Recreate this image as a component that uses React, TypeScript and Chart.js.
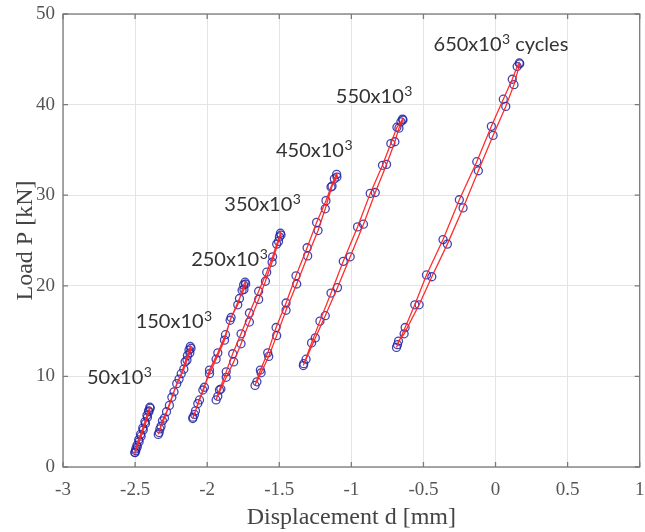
import React, { useEffect, useRef } from 'react';
import { Chart, registerables } from 'chart.js';

Chart.register(...registerables);

// Axis ticks
const xTickValues = [-3, -2.5, -2, -1.5, -1, -0.5, 0, 0.5, 1];
const yTickValues = [0, 10, 20, 30, 40, 50];

// Loop labels (text + anchor in data coordinates)
const cycleLabels = ['50x10³', '150x10³', '250x10³', '350x10³', '450x10³', '550x10³', '650x10³ cycles'];
const cycleLabelX = [-2.834, -2.496, -2.111, -1.881, -1.523, -1.108, -0.43];
const cycleLabelY = [9.9, 16.1, 22.9, 29.0, 34.9, 40.9, 46.6];

// Hysteresis loops: displacement [mm] and load [kN] (loading up, then unloading down)
const loop50X = [-2.502, -2.495, -2.487, -2.475, -2.462, -2.447, -2.432, -2.418, -2.407, -2.398, -2.395, -2.404, -2.414, -2.428, -2.443, -2.458, -2.472, -2.485, -2.495, -2.5];
const loop50Y = [1.6, 2.0, 2.4, 3.0, 3.6, 4.3, 5.0, 5.7, 6.2, 6.6, 6.5, 6.1, 5.5, 4.8, 4.1, 3.4, 2.8, 2.2, 1.8, 1.6];

const loop150X = [-2.339, -2.328, -2.31, -2.282, -2.245, -2.211, -2.18, -2.153, -2.137, -2.126, -2.117, -2.112, -2.12, -2.14, -2.162, -2.195, -2.23, -2.262, -2.296, -2.32, -2.333];
const loop150Y = [3.6, 4.2, 5.1, 6.1, 7.7, 9.2, 10.3, 11.6, 12.3, 12.9, 13.3, 13.1, 12.6, 11.8, 10.8, 9.7, 8.3, 6.8, 5.4, 4.5, 3.8];

const loop250X = [-2.1, -2.081, -2.053, -2.019, -1.984, -1.926, -1.873, -1.834, -1.788, -1.758, -1.747, -1.737, -1.733, -1.745, -1.776, -1.841, -1.88, -1.938, -1.984, -2.03, -2.065, -2.088, -2.098];
const loop250Y = [5.35, 6.2, 7.4, 8.8, 10.7, 12.6, 14.6, 16.5, 17.9, 19.5, 20.1, 20.4, 20.2, 19.6, 18.6, 16.2, 14.0, 11.9, 10.3, 8.5, 7.0, 5.8, 5.5];

const loop350X = [-1.938, -1.915, -1.868, -1.823, -1.765, -1.707, -1.643, -1.587, -1.546, -1.518, -1.499, -1.492, -1.488, -1.505, -1.55, -1.596, -1.643, -1.707, -1.765, -1.816, -1.868, -1.905, -1.926];
const loop350Y = [7.4, 8.5, 10.5, 12.5, 14.7, 17.0, 19.4, 21.5, 23.2, 24.6, 25.4, 25.8, 25.6, 24.9, 22.6, 20.5, 18.5, 16.0, 13.6, 11.6, 9.9, 8.6, 7.8];

const loop450X = [-1.668, -1.631, -1.58, -1.522, -1.453, -1.384, -1.307, -1.241, -1.176, -1.141, -1.118, -1.102, -1.1, -1.134, -1.181, -1.231, -1.303, -1.379, -1.453, -1.518, -1.573, -1.626, -1.655];
const loop450Y = [9.0, 10.7, 12.6, 15.4, 18.1, 21.1, 24.2, 27.0, 29.4, 30.9, 31.8, 32.3, 32.0, 31.0, 28.5, 26.1, 23.3, 20.2, 17.3, 14.5, 12.2, 10.4, 9.4];

const loop550X = [-1.333, -1.276, -1.218, -1.141, -1.056, -0.957, -0.869, -0.784, -0.726, -0.684, -0.656, -0.645, -0.642, -0.67, -0.698, -0.756, -0.834, -0.916, -1.008, -1.096, -1.181, -1.25, -1.314, -1.33];
const loop550Y = [11.2, 13.7, 16.1, 19.2, 22.7, 26.5, 30.2, 33.3, 35.7, 37.5, 38.1, 38.4, 38.3, 37.4, 35.9, 33.4, 30.3, 26.8, 23.2, 19.8, 16.7, 14.25, 11.9, 11.4];

const loop650X = [-0.687, -0.627, -0.56, -0.479, -0.364, -0.251, -0.13, -0.029, 0.054, 0.116, 0.15, 0.165, 0.168, 0.128, 0.071, -0.017, -0.119, -0.225, -0.334, -0.442, -0.53, -0.634, -0.673, -0.68];
const loop650Y = [13.2, 15.4, 17.9, 21.2, 25.1, 29.5, 33.7, 37.6, 40.6, 42.8, 44.2, 44.6, 44.5, 42.2, 39.8, 36.6, 32.7, 28.6, 24.6, 21.0, 17.9, 14.7, 13.9, 13.5];

const loopsX = [loop50X, loop150X, loop250X, loop350X, loop450X, loop550X, loop650X];
const loopsY = [loop50Y, loop150Y, loop250Y, loop350Y, loop450Y, loop550Y, loop650Y];

const LINE_COLOR = 'rgba(255,35,35,0.95)';
const MARKER_COLOR = 'rgba(35,35,165,0.85)';
const AXIS_COLOR = '#7a7a7a';
const GRID_COLOR = '#e4e4e4';
const TEXT_COLOR = '#555555';
const SERIF = "'Liberation Serif', 'DejaVu Serif', serif";
const LABEL_FONT = "20px Lato, 'Open Sans', sans-serif";
const SUP_FONT = "14px Lato, 'Open Sans', sans-serif";

const framePlugin = {
  id: 'frameAndLabels',
  afterDraw(chart: any) {
    const { ctx, chartArea, scales } = chart;
    const xs = scales.x;
    const ys = scales.y;
    const { left, right, top, bottom } = chartArea;
    ctx.save();
    ctx.strokeStyle = AXIS_COLOR;
    ctx.lineWidth = 1.3;
    ctx.strokeRect(left, top, right - left, bottom - top);
    const tl = 5;
    ctx.beginPath();
    xTickValues.forEach((v) => {
      const px = xs.getPixelForValue(v);
      ctx.moveTo(px, bottom);
      ctx.lineTo(px, bottom - tl);
      ctx.moveTo(px, top);
      ctx.lineTo(px, top + tl);
    });
    yTickValues.forEach((v) => {
      const py = ys.getPixelForValue(v);
      ctx.moveTo(left, py);
      ctx.lineTo(left + tl, py);
      ctx.moveTo(right, py);
      ctx.lineTo(right - tl, py);
    });
    ctx.stroke();

    ctx.fillStyle = '#333333';
    ctx.textAlign = 'left';
    ctx.textBaseline = 'middle';
    cycleLabels.forEach((t, i) => {
      let x = xs.getPixelForValue(cycleLabelX[i]);
      const y = ys.getPixelForValue(cycleLabelY[i]);
      const k = t.indexOf('³');
      const base = k >= 0 ? t.slice(0, k) : t;
      const rest = k >= 0 ? t.slice(k + 1) : '';
      ctx.font = LABEL_FONT;
      ctx.fillText(base, x, y);
      x += ctx.measureText(base).width + 0.5;
      if (k >= 0) {
        ctx.font = SUP_FONT;
        ctx.fillText('3', x, y - 5);
        x += ctx.measureText('3').width;
      }
      if (rest) {
        ctx.font = LABEL_FONT;
        ctx.fillText(rest, x, y);
      }
    });
    ctx.restore();
  },
};

export default function App() {
  const canvasRef = useRef<HTMLCanvasElement | null>(null);

  useEffect(() => {
    document.body.style.margin = '0';
    const canvas = canvasRef.current;
    if (!canvas) return;

    const datasets: any[] = [];
    loopsX.forEach((xsArr, i) => {
      const pts = xsArr.map((x, j) => ({ x, y: loopsY[i][j] }));
      datasets.push({
        label: 'line' + i,
        data: pts,
        showLine: true,
        borderColor: LINE_COLOR,
        borderWidth: 1.3,
        pointRadius: 0,
        fill: false,
        order: 0,
      });
      datasets.push({
        label: 'markers' + i,
        data: pts,
        showLine: false,
        pointStyle: 'circle',
        pointRadius: 4,
        pointBorderWidth: 1.3,
        pointBorderColor: MARKER_COLOR,
        pointBackgroundColor: 'rgba(0,0,0,0)',
        order: 1,
      });
    });

    const chart = new Chart(canvas, {
      type: 'scatter',
      data: { datasets },
      options: {
        animation: false,
        responsive: false,
        devicePixelRatio: 1,
        layout: { padding: { top: 14, right: 3, left: 0, bottom: 0 } },
        plugins: { legend: { display: false }, tooltip: { enabled: false } },
        scales: {
          x: {
            type: 'linear',
            min: -3,
            max: 1,
            afterBuildTicks: (s: any) => {
              s.ticks = xTickValues.map((v) => ({ value: v }));
            },
            ticks: {
              autoSkip: false,
              maxRotation: 0,
              padding: 12,
              color: TEXT_COLOR,
              font: { family: SERIF, size: 19 },
              callback: (v: any) => String(Number(v)),
            },
            grid: { color: GRID_COLOR, drawTicks: false, lineWidth: 1 },
            border: { display: false },
            title: {
              display: true,
              text: 'Displacement d [mm]',
              color: '#444444',
              font: { family: SERIF, size: 24 },
              padding: { top: 0, bottom: 0 },
            },
            afterFit: (s: any) => {
              s.height = 65;
              s.paddingLeft = 0;
              s.paddingRight = 0;
            },
          },
          y: {
            type: 'linear',
            min: 0,
            max: 50,
            afterBuildTicks: (s: any) => {
              s.ticks = yTickValues.map((v) => ({ value: v }));
            },
            ticks: {
              padding: 8,
              color: TEXT_COLOR,
              font: { family: SERIF, size: 19 },
              callback: (v: any) => String(Number(v)),
            },
            grid: { color: GRID_COLOR, drawTicks: false, lineWidth: 1 },
            border: { display: false },
            title: {
              display: true,
              text: 'Load P [kN]',
              color: '#444444',
              font: { family: SERIF, size: 24 },
              padding: { top: 11, bottom: 0 },
            },
            afterFit: (s: any) => {
              s.width = 63;
              s.paddingTop = 0;
              s.paddingBottom = 0;
            },
          },
        },
      },
      plugins: [framePlugin],
    });

    return () => chart.destroy();
  }, []);

  return (
    <div style={{ position: 'absolute', left: 0, top: 0, width: 645, height: 532, background: '#ffffff' }}>
      <canvas ref={canvasRef} width={645} height={532} />
    </div>
  );
}
